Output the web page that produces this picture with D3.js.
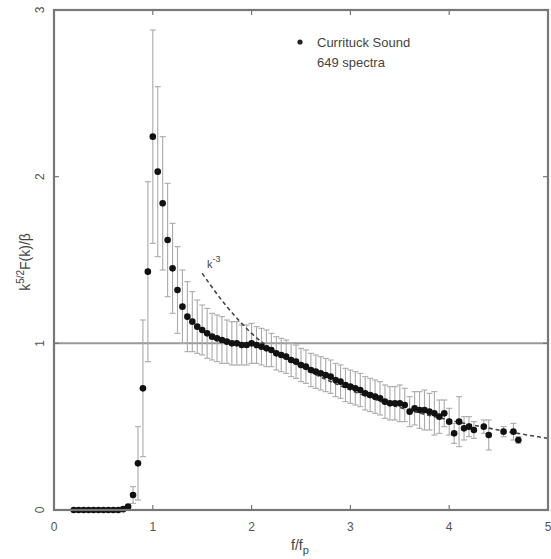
<!DOCTYPE html>
<html><head><meta charset="utf-8">
<script src="https://cdn.jsdelivr.net/npm/d3@7"></script>
<style>body{margin:0;background:#fff}svg{display:block}</style>
</head><body>
<script>
// ---- data ----
const freq = [0.20,0.25,0.30,0.35,0.40,0.45,0.50,0.55,0.60,0.65,0.70,0.75,
  0.80,0.85,0.90,0.95,1.00,1.05,1.10,1.15,1.20,1.25,1.30,1.35,1.40,1.45,1.50,1.55,1.60,1.65,
  1.70,1.75,1.80,1.85,1.90,1.95,2.00,2.05,2.10,2.15,2.20,2.25,2.30,2.35,2.40,2.45,2.50,2.55,
  2.60,2.65,2.70,2.75,2.80,2.85,2.90,2.95,3.00,3.05,3.10,3.15,3.20,3.25,3.30,3.35,3.40,3.45,
  3.50,3.55,3.60,3.65,3.70,3.75,3.80,3.85,3.90,3.95,4.00,4.05,4.10,4.15,4.20,4.25,4.35,4.40,
  4.55,4.65,4.70];
const meanVal = [0,0,0,0,0,0,0,0,0,0,0.005,0.02,
  0.09,0.28,0.73,1.43,2.24,2.03,1.84,1.62,1.45,1.32,1.22,1.16,1.13,1.10,1.08,1.06,1.04,1.03,
  1.02,1.01,1.00,1.00,0.99,0.99,1.00,0.99,0.98,0.97,0.96,0.94,0.93,0.92,0.90,0.89,0.87,0.86,
  0.84,0.83,0.82,0.81,0.80,0.78,0.77,0.75,0.74,0.73,0.72,0.70,0.69,0.68,0.67,0.65,0.64,0.64,
  0.64,0.63,0.59,0.61,0.60,0.60,0.59,0.58,0.56,0.58,0.53,0.46,0.53,0.49,0.50,0.48,0.50,0.45,
  0.47,0.47,0.42];
const errVal = [0,0,0,0,0,0,0,0,0,0,0,0.01,
  0.05,0.22,0.41,0.54,0.64,0.51,0.40,0.34,0.27,0.26,0.22,0.21,0.18,0.16,0.15,0.15,0.14,0.14,
  0.14,0.13,0.13,0.13,0.12,0.12,0.12,0.11,0.11,0.11,0.10,0.10,0.10,0.10,0.10,0.10,0.10,0.10,
  0.10,0.10,0.10,0.10,0.10,0.10,0.10,0.10,0.10,0.10,0.10,0.10,0.10,0.10,0.10,0.10,0.10,0.10,
  0.11,0.10,0.09,0.10,0.11,0.12,0.11,0.13,0.10,0.08,0.08,0.06,0.15,0.07,0.06,0.05,0.04,0.09,
  0.03,0.05,0.02];
// k^-3 reference curve
const refF = [1.5,1.75,2.0,2.5,3.0,3.5,4.0,4.5,5.0];
const refV = [1.42,1.22,1.06,0.86,0.72,0.615,0.54,0.48,0.43];
const xTicks = [0,1,2,3,4,5];
const yTicks = [0,1,2,3];
const legendLines = ["Currituck Sound","649 spectra"];

// ---- chart ----
const W = 551, H = 559;
const svg = d3.select("body").append("svg").attr("width",W).attr("height",H);
const x = d3.scaleLinear().domain([0,5]).range([54,548]);
const y = d3.scaleLinear().domain([0,3]).range([510,10]);
const font = "Liberation Sans, Arial, sans-serif";
const data = freq.map((f,i)=>({f, v:meanVal[i], e:errVal[i]}));

// reference line at 1
svg.append("line").attr("x1",x(0)).attr("x2",x(5)).attr("y1",y(1)).attr("y2",y(1))
  .attr("stroke","#999").attr("stroke-width",2);

// error bars
const eb = svg.append("g").attr("stroke","#aaa").attr("stroke-width",1.1).attr("fill","none");
data.filter(d=>d.e>0.015).forEach(d=>{
  const cx = x(d.f);
  eb.append("line").attr("x1",cx).attr("x2",cx).attr("y1",y(d.v+d.e)).attr("y2",y(d.v-d.e));
  eb.append("line").attr("x1",cx-3).attr("x2",cx+3).attr("y1",y(d.v+d.e)).attr("y2",y(d.v+d.e));
  eb.append("line").attr("x1",cx-3).attr("x2",cx+3).attr("y1",y(d.v-d.e)).attr("y2",y(d.v-d.e));
});

// k^-3 dashed curve
svg.append("path").datum(refF.map((f,i)=>[f,refV[i]]))
  .attr("d", d3.line().x(d=>x(d[0])).y(d=>y(d[1])).curve(d3.curveMonotoneX))
  .attr("fill","none").attr("stroke","#444").attr("stroke-width",1.6).attr("stroke-dasharray","4,3");

// points
svg.append("g").selectAll("circle").data(data).join("circle")
  .attr("cx",d=>x(d.f)).attr("cy",d=>y(d.v)).attr("r",3.3).attr("fill","#111");

// frame
const frame = svg.append("g").attr("stroke","#777").attr("stroke-width",2.2).attr("fill","none");
frame.append("rect").attr("x",x(0)).attr("y",y(3)).attr("width",x(5)-x(0)).attr("height",y(0)-y(3));

// ticks
const tk = svg.append("g").attr("stroke","#777").attr("stroke-width",1.2);
xTicks.slice(1,-1).forEach(t=>{
  tk.append("line").attr("x1",x(t)).attr("x2",x(t)).attr("y1",y(0)).attr("y2",y(0)-5);
  tk.append("line").attr("x1",x(t)).attr("x2",x(t)).attr("y1",y(3)).attr("y2",y(3)+5);
});
yTicks.slice(1,-1).forEach(t=>{
  tk.append("line").attr("x1",x(0)).attr("x2",x(0)+5).attr("y1",y(t)).attr("y2",y(t));
  tk.append("line").attr("x1",x(5)).attr("x2",x(5)-5).attr("y1",y(t)).attr("y2",y(t));
});

// tick labels
svg.append("g").selectAll("text").data(xTicks).join("text")
  .attr("x",d=>x(d)).attr("y",531).attr("text-anchor","middle")
  .attr("font-family",font).attr("font-size",12).attr("fill","#555").text(d=>d);
svg.append("g").selectAll("text").data(yTicks).join("text")
  .attr("transform",d=>`translate(44,${y(d)}) rotate(-90)`).attr("text-anchor","middle")
  .attr("font-family",font).attr("font-size",12).attr("fill","#555").text(d=>d);

// axis titles
const xl = svg.append("text").attr("x",300).attr("y",550).attr("text-anchor","middle")
  .attr("font-family",font).attr("font-size",14).attr("fill","#444");
xl.append("tspan").text("f/f");
xl.append("tspan").attr("dy",4).attr("font-size",11).text("p");

const yl = svg.append("text").attr("transform","translate(30,262) rotate(-90)").attr("text-anchor","middle")
  .attr("font-family",font).attr("font-size",14).attr("fill","#444");
yl.append("tspan").text("k");
yl.append("tspan").attr("dy",-6).attr("font-size",10).text("5/2");
yl.append("tspan").attr("dy",6).text("F(k)/β");

// k^-3 label
const kl = svg.append("text").attr("x",207).attr("y",268)
  .attr("font-family",font).attr("font-size",11).attr("fill","#444");
kl.append("tspan").text("k");
kl.append("tspan").attr("dy",-6).attr("font-size",9).text("-3");

// legend
svg.append("circle").attr("cx",300).attr("cy",42).attr("r",2.6).attr("fill","#222");
svg.append("g").selectAll("text").data(legendLines).join("text")
  .attr("x",317).attr("y",(d,i)=>47+i*20)
  .attr("font-family",font).attr("font-size",13).attr("fill","#444").text(d=>d);
</script>
</body></html>
